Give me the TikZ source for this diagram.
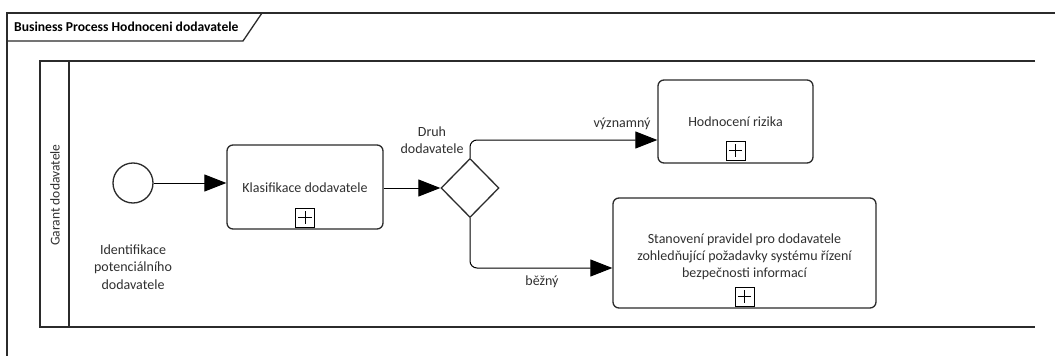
\documentclass[tikz,border=0pt]{standalone}
\usepackage{fontspec}
\setmainfont{Carlito}
\usetikzlibrary{shapes.geometric,arrows.meta,calc}
\definecolor{edge}{HTML}{2B2B2B}
\definecolor{ink}{HTML}{303030}
\tikzset{
  frameline/.style={draw=edge, line width=1.3pt},
  task/.style={draw=edge, line width=1.3pt, rounded corners=6pt, fill=white,
    align=center, text=ink, font=\fontsize{14}{17}\selectfont, inner sep=0pt},
  plusmark/.style={draw=black, line width=0.9pt, minimum width=19pt, minimum height=19pt, inner sep=0pt,
    path picture={\draw[line width=0.9pt]
      ($(path picture bounding box.north)!0.15!(path picture bounding box.south)$) --
      ($(path picture bounding box.north)!0.85!(path picture bounding box.south)$)
      ($(path picture bounding box.west)!0.15!(path picture bounding box.east)$) --
      ($(path picture bounding box.west)!0.85!(path picture bounding box.east)$);}},
  flow/.style={draw=black, line width=1pt, -{Triangle[length=22pt,width=17pt]}},
  lbl/.style={text=ink, align=center, font=\fontsize{14}{17.5}\selectfont, inner sep=0pt},
}
\begin{document}
\begin{tikzpicture}[x=1pt,y=-1pt]
\useasboundingbox (0,0) rectangle (1055,356);
\fill[white] (0,0) rectangle (1055,356);

% diagram frame and its title tab
\draw[frameline] (1055,13) -- (7,13) -- (7,356);
\draw[frameline] (7,13) -- (262,13) -- (243,41) -- (7,41);
\node[anchor=west, inner sep=0pt, font=\bfseries\fontsize{13.6}{15}\selectfont, text=black]
  (title) at (14,27) {Business Process Hodnoceni dodavatele};

% pool with its lane header
\draw[frameline] (1035,61) -- (40,61) -- (40,327) -- (1035,327);
\draw[frameline] (69,61) -- (69,327);
\node[rotate=90, inner sep=0pt, text=ink, font=\fontsize{13.5}{15}\selectfont]
  (lane) at (55,195) {Garant dodavatele};

% flow nodes
\node[circle, draw=edge, line width=1.3pt, minimum size=40pt, inner sep=0pt]
  (start) at (133,183) {};
\node[lbl] (startlbl) at (133,267) {Identifikace\\potenciálního\\dodavatele};

\node[task, minimum width=156pt, minimum height=84pt] (klas) at (305,187) {};
\node[task, draw=none, fill=none] (klastext) at (305,188) {Klasifikace dodavatele};
\node[plusmark, anchor=south] (klasplus) at ([yshift=2pt]klas.south) {};

\node[diamond, draw=edge, line width=1.3pt, minimum width=58pt, minimum height=59pt,
  inner sep=0pt, fill=white] (gw) at (470,188) {};
\node[lbl] (gwlbl) at (432,140) {Druh\\dodavatele};

\node[task, minimum width=155pt, minimum height=83pt] (hod) at (735.5,121.5) {};
\node[task, draw=none, fill=none] (hodtext) at (735.5,122) {Hodnocení rizika};
\node[plusmark, anchor=south] (hodplus) at ([yshift=3pt]hod.south) {};

\node[task, minimum width=263pt, minimum height=110pt] (stan) at (744.5,253) {};
\node[task, draw=none, fill=none] (stantext) at (744.5,257)
  {Stanovení pravidel pro dodavatele\\zohledňující požadavky systému řízení\\bezpečnosti informací};
\node[plusmark, anchor=south] (stanplus) at ([yshift=2pt]stan.south) {};

% sequence flows
\draw[flow] (start) -- (klas.west |- start);
\draw[flow] (klas.east |- gw) -- (gw.west);
\draw[flow, rounded corners=7pt] (gw.north) |- ([yshift=-18.5pt]hod.west);
\draw[flow, rounded corners=7pt] (gw.south) |- ([yshift=-15pt]stan.west);

% flow conditions
\node[lbl] (big) at (622,124) {významný};
\node[lbl] (usual) at (542,282) {běžný};
\end{tikzpicture}
\end{document}
